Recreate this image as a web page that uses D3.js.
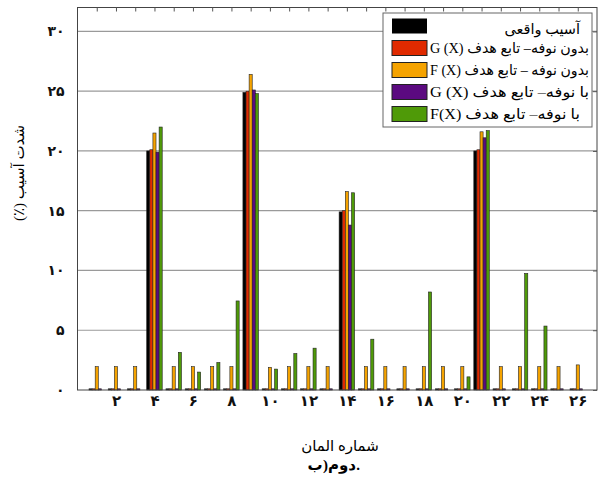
<!DOCTYPE html>
<html lang="fa">
<head>
    <meta charset="UTF-8">
    <script src="https://d3js.org/d3.v7.min.js"></script>
    <title>Damage severity</title>
    <style>
        body{
            margin: 0;
            background: #fff;
        }
        svg text{
            font-family: "Liberation Serif", "DejaVu Sans", serif;
        }
    </style>
</head>
<body>
    <script>
        // element numbers
        const elements = [1,2,3,4,5,6,7,8,9,10,11,12,13,14,15,16,17,18,19,20,21,22,23,24,25,26];
        const xTicks = [2,4,6,8,10,12,14,16,18,20,22,24,26];
        const yTicks = [0,5,10,15,20,25,30];

        // damage severity (%) per element, one array per series
        const actual   = [0.1,0.1,0.1,20.0,0.1,0.1,0.1,0.1,24.9,0.1,0.1,0.1,0.1,14.9,0.1,0.1,0.1,0.1,0.1,0.1,20.0,0.1,0.1,0.1,0.1,0.1];
        const cleanG   = [0.1,0.1,0.1,20.1,0.1,0.1,0.1,0.1,25.0,0.1,0.1,0.1,0.1,15.0,0.1,0.1,0.1,0.1,0.1,0.1,20.1,0.1,0.1,0.1,0.1,0.1];
        const cleanF   = [1.95,1.95,1.95,21.5,1.95,1.95,1.95,1.95,26.4,1.9,1.95,1.95,1.95,16.6,1.95,1.95,1.95,1.95,1.95,1.95,21.6,1.95,1.95,1.95,1.95,2.1];
        const noisyG   = [0.1,0.1,0.1,19.9,0.1,0.1,0.1,0.1,25.1,0.1,0.1,0.1,0.1,13.8,0.1,0.1,0.1,0.1,0.1,0.1,21.1,0.1,0.1,0.1,0.1,0.1];
        const noisyF   = [0,0,0,22.0,3.15,1.5,2.3,7.45,24.8,1.75,3.05,3.5,0,16.5,4.25,0,0,8.2,0,1.1,21.7,0,9.75,5.35,0,0];

        const seriesNames = [
            "آسیب واقعی",
            "G (X) بدون نوفه– تابع هدف",
            "F (X) بدون نوفه – تابع هدف",
            "G (X) با نوفه– تابع هدف",
            "F(X) با نوفه– تابع هدف"
        ];
        const colors = ["#000000", "#e02a00", "#f5a300", "#5b0a80", "#4f9a08"];
        const series = [actual, cleanG, cleanF, noisyG, noisyF];

        const width = 604;
        const height = 492;
        const margin = {top: 7.5, right: 7, bottom: 102, left: 77.5};

        const faDigits = n => String(n).replace(/\d/g, d => "۰۱۲۳۴۵۶۷۸۹"[d]);

        const x = d3.scaleLinear()
            .domain([0, 27])
            .range([margin.left, width - margin.right]);

        const y = d3.scaleLinear()
            .domain([0, 32])
            .range([height - margin.bottom, margin.top]);

        const barW = 3.1;

        const svg = d3.select('body')
            .append('svg')
            .attr('width', width)
            .attr('height', height);

        // grid lines
        svg.append('g')
            .selectAll('line')
            .data(yTicks.filter(d => d > 0))
            .enter()
            .append('line')
            .attr('x1', x(0))
            .attr('x2', x(27))
            .attr('y1', d => y(d))
            .attr('y2', d => y(d))
            .attr('stroke', '#9a9a9a')
            .attr('stroke-width', 1.2);

        // bars
        series.forEach((vals, i) => {
            svg.append('g')
                .selectAll('rect')
                .data(elements)
                .enter()
                .append('rect')
                .attr('x', (d, j) => x(d) + (i - 2.5) * barW)
                .attr('y', (d, j) => y(vals[j]))
                .attr('width', barW)
                .attr('height', (d, j) => y(0) - y(vals[j]))
                .attr('fill', colors[i])
                .attr('stroke', (d, j) => vals[j] === 0 ? 'none' : '#222')
                .attr('stroke-width', 0.6);
        });

        // frame
        svg.append('rect')
            .attr('x', x(0))
            .attr('y', y(32))
            .attr('width', x(27) - x(0))
            .attr('height', y(0) - y(32))
            .attr('fill', 'none')
            .attr('stroke', '#444')
            .attr('stroke-width', 1);

        // top minor ticks
        svg.append('g')
            .attr('transform', `translate(0, ${y(32)})`)
            .call(d3.axisBottom(x).tickValues(elements).tickSize(4).tickFormat(''))
            .call(g => g.select('.domain').remove())
            .call(g => g.selectAll('line').attr('stroke', '#555'));

        // x axis labels
        svg.append('g')
            .attr('transform', `translate(0, ${y(0)})`)
            .call(d3.axisBottom(x).tickValues(xTicks).tickSize(0).tickPadding(5).tickFormat(faDigits))
            .call(g => g.select('.domain').remove())
            .call(g => g.selectAll('text')
                .attr('font-size', 15)
                .attr('font-weight', 'bold')
                .attr('fill', '#111'));

        // y axis labels
        svg.append('g')
            .attr('transform', `translate(${x(0)}, 0)`)
            .call(d3.axisLeft(y).tickValues(yTicks).tickSize(0).tickPadding(13).tickFormat(faDigits))
            .call(g => g.select('.domain').remove())
            .call(g => g.selectAll('text')
                .attr('font-size', 14)
                .attr('font-weight', 'bold')
                .attr('fill', '#111'));

        // right side ticks
        svg.append('g')
            .attr('transform', `translate(${x(27)}, 0)`)
            .call(d3.axisLeft(y).tickValues(yTicks).tickSize(0).tickFormat(''))
            .call(g => g.select('.domain').remove())
            .call(g => g.selectAll('line').attr('stroke', '#555').attr('x2', -4));

        // axis titles
        svg.append('text')
            .attr('transform', `translate(24, 173) rotate(-90)`)
            .attr('text-anchor', 'middle')
            .attr('direction', 'rtl')
            .attr('font-size', 15)
            .text('شدت آسیب (٪)');

        svg.append('text')
            .attr('x', 340)
            .attr('y', 451)
            .attr('text-anchor', 'middle')
            .attr('font-size', 15)
            .text('شماره المان');

        // caption "ب) دوم." laid out piece by piece so the visual order matches
        const capParts = ['ب', ')', 'دوم', '.'];
        const capX = [315, 325.5, 342, 358];
        svg.append('g')
            .attr('font-size', 15)
            .attr('font-weight', 'bold')
            .selectAll('text')
            .data(capParts)
            .enter()
            .append('text')
            .attr('x', (d, i) => capX[i])
            .attr('y', 470)
            .attr('text-anchor', 'middle')
            .text(d => d);

        // legend
        const legend = svg.append('g');
        legend.append('rect')
            .attr('x', 383)
            .attr('y', 13)
            .attr('width', 209)
            .attr('height', 114)
            .attr('fill', '#fff')
            .attr('stroke', '#666')
            .attr('stroke-width', 1);

        seriesNames.forEach((name, i) => {
            const cy = 26 + i * 22;
            legend.append('rect')
                .attr('x', 392)
                .attr('y', cy - 7.5)
                .attr('width', 35)
                .attr('height', 15)
                .attr('fill', colors[i])
                .attr('stroke', i === 0 ? 'none' : '#222')
                .attr('stroke-width', 1);
            const t = legend.append('text')
                .attr('x', i === 0 ? 580 : 430)
                .attr('y', cy + (i === 0 ? 8 : 5))
                .attr('text-anchor', i === 0 ? 'end' : 'start')
                .attr('font-size', 14.5)
                .text(name);
            if (i > 0) {
                t.attr('textLength', i === 4 ? 150 : 159)
                    .attr('lengthAdjust', 'spacingAndGlyphs');
            }
        });
    </script>
</body>
</html>
